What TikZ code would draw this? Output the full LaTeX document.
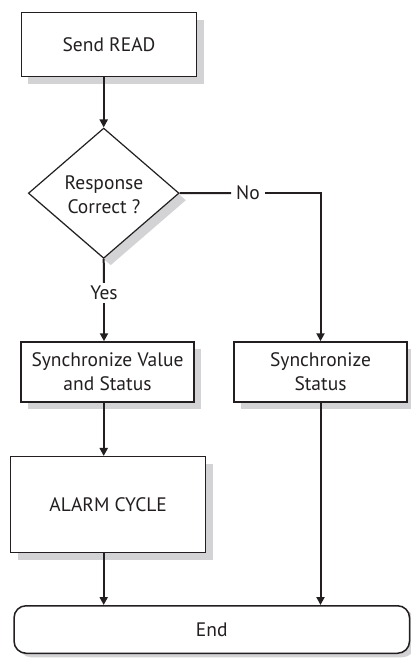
\documentclass[tikz,border=0pt]{standalone}
\usepackage{fontspec}
\setmainfont{PT Sans}
\usetikzlibrary{shapes.geometric,arrows.meta,shadows}
\definecolor{shade}{RGB}{211,211,213}
\definecolor{ink}{RGB}{35,31,32}
\tikzset{
  shad/.style={drop shadow={shadow xshift=7pt,shadow yshift=-7pt,fill=shade,opacity=1}},
  procbox/.style={draw=ink,line width=1.5pt,fill=white,shad,rectangle,inner sep=0pt,align=center,text=ink},
  decbox/.style={draw=ink,line width=1.2pt,fill=white,shad,diamond,inner sep=0pt},
  termbox/.style={draw=ink,line width=1.5pt,fill=white,rectangle,rounded corners=12pt,inner sep=0pt,text=ink,
    drop shadow={shadow xshift=5pt,shadow yshift=-4pt,fill=shade,opacity=1}},
  lbl/.style={inner xsep=5pt,inner ysep=3pt,text=ink},
  arr/.style={draw=ink,line width=2pt,-{Triangle[width=8pt,length=8pt]}},
  ln/.style={draw=ink,line width=2pt},
}
\begin{document}
\begin{tikzpicture}[x=1pt,y=-1pt,font=\fontsize{19.5}{24}\selectfont]
\useasboundingbox (0,0) rectangle (410,658);
\fill[white] (0,0) rectangle (410,658);
\node[procbox,minimum width=175.4pt,minimum height=64pt] (s) at (109,44.7) {Send READ};
\node[decbox,minimum width=150.7pt,minimum height=130.3pt] (d) at (103.7,193.2) {};
\node[align=center,text=ink,inner sep=0pt] (dt) at (104,195) {Response\\Correct ?};
\node[procbox,minimum width=173pt,minimum height=60pt] (sv) at (107.5,372) {Synchronize Value\\and Status};
\node[procbox,minimum width=173pt,minimum height=60pt] (ss) at (320.5,372) {Synchronize\\Status};
\node[procbox,minimum width=195pt,minimum height=96pt] (al) at (108.2,504.7) {ALARM CYCLE};
\node[termbox,minimum width=395.5pt,minimum height=47.5pt] (en) at (211.8,629.5) {End};
\node[lbl] (no) at (248,193) {No};
\node[lbl] (yes) at (104,293) {Yes};
\draw[arr] (s.south -| d.north) -- (d.north);
\draw[ln] (d.east) -- (no.west);
\draw[arr] (no.east) -| (ss.north);
\draw[ln] (d.south) -- (yes.north);
\draw[arr] (yes.south) -- (yes.south |- sv.north);
\draw[arr] (sv.south -| d.south) -- (al.north -| d.south);
\draw[arr] (al.south -| d.south) -- (en.north -| d.south);
\draw[arr] (ss.south) -- (en.north -| ss.south);
\end{tikzpicture}
\end{document}
